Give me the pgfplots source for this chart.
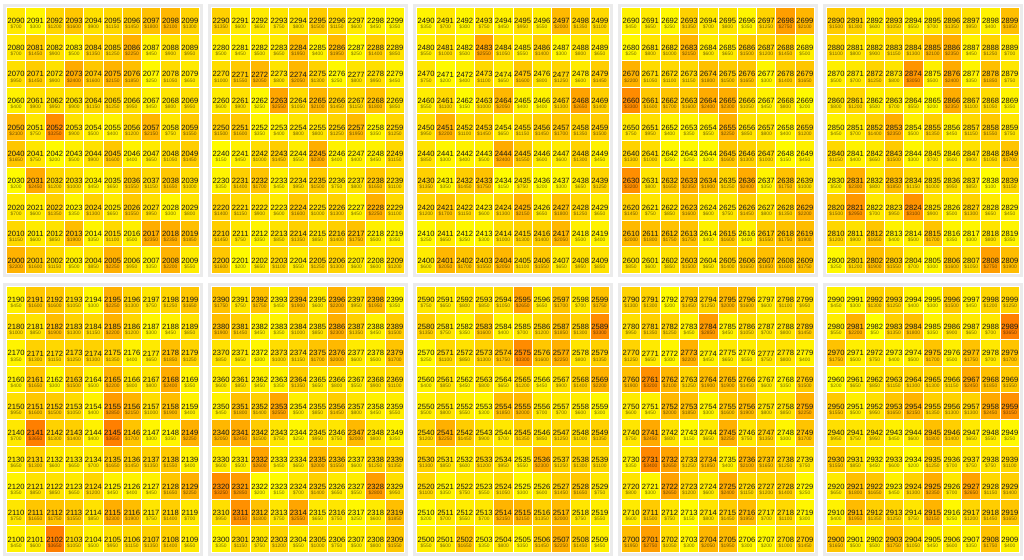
\documentclass[border=0pt]{standalone}
\usepackage{pgfplots}
\usepackage{pgfplotstable}
\pgfplotsset{compat=1.18}
\usepackage{fontspec}
\setmainfont{Liberation Sans}

\pgfdeclareplotmark{cell}{%
  \pgfpathrectangle{\pgfpoint{-7.2394pt}{-9.9781pt}}{\pgfpoint{14.4788pt}{19.9561pt}}%
  \pgfusepathqfillstroke}

\pgfplotstableread{
r c0 c1 c2 c3 c4 c5 c6 c7 c8 c9
2000 2200 1600 1150 500 850 2250 950 350 2200 550
2010 1150 600 850 1900 350 1100 500 2350 2350 1850
2020 700 600 1350 350 1300 650 1550 950 300 800
2030 200 2450 1200 1000 450 650 1550 1150 1650 1000
2040 1650 750 200 500 900 1600 400 650 1050 1450
2050 2100 750 3250 900 500 400 1200 2150 750 1550
2060 400 900 950 900 1150 1250 950 450 800 950
2070 950 1450 900 2400 1600 2150 1850 250 1050 650
2080 700 1450 900 500 1350 1250 2250 450 900 950
2090 700 300 1200 1600 900 1150 1450 1800 2100 1300
}\tA
\pgfplotstableread{
r c0 c1 c2 c3 c4 c5 c6 c7 c8 c9
2100 450 600 3650 1050 500 950 1150 1350 1400 650
2110 750 1650 1750 1550 850 2300 1900 750 1400 700
2120 350 850 850 650 1200 450 400 450 1650 2250
2130 650 1300 600 650 700 1650 1450 1350 1550 400
2140 700 3650 1300 1400 400 3650 1700 300 350 2250
2150 950 1600 1500 1050 400 2850 2150 1000 1900 400
2160 400 1650 300 1500 500 2200 800 800 2400 350
2170 350 1300 1150 1250 1300 1350 400 650 1850 1250
2180 1000 850 1900 1300 1150 2200 1200 300 450 850
2190 450 1600 1600 1050 300 2250 1300 750 1250 1650
}\tB
\pgfplotstableread{
r c0 c1 c2 c3 c4 c5 c6 c7 c8 c9
2200 1600 200 650 1100 550 1250 1300 600 600 1200
2210 1450 750 350 850 1350 850 1400 1750 500 350
2220 1400 1150 900 600 1600 1000 1300 450 2250 1100
2230 350 1400 1700 450 950 1500 750 800 1650 1100
2240 150 450 1000 1450 550 2300 400 400 450 1150
2250 1500 1600 350 400 800 800 1250 1950 350 1250
2260 600 900 250 2550 1050 2100 1450 1150 1800 850
2270 1000 1550 2050 800 2050 1300 250 800 950 450
2280 500 450 500 650 1950 400 1950 250 1400 850
2290 1350 600 650 750 800 1500 1150 600 450 350
}\tC
\pgfplotstableread{
r c0 c1 c2 c3 c4 c5 c6 c7 c8 c9
2300 350 1150 750 1200 550 1000 750 500 800 1550
2310 950 3150 1800 750 2550 650 750 250 600 1850
2320 3250 2850 200 150 700 1400 650 550 2800 950
2330 600 500 2600 450 650 2000 1550 600 1250 1350
2340 2050 2450 1500 750 250 950 750 2000 800 350
2350 450 1800 1400 2550 500 850 1450 800 450 550
2360 600 850 450 350 1350 650 800 550 900 1100
2370 850 650 300 1000 1150 1700 2000 600 500 1700
2380 1900 1450 450 350 1000 850 2300 1350 450 1500
2390 1750 750 1750 450 1900 600 2200 950 1950 350
}\tD
\pgfplotstableread{
r c0 c1 c2 c3 c4 c5 c6 c7 c8 c9
2400 600 2050 1700 1550 2050 1100 1550 650 950 850
2410 250 650 250 300 1000 1300 1400 2050 500 400
2420 1200 1700 1150 600 1300 2150 650 1800 1250 650
2430 1350 350 1450 1750 150 750 200 300 650 1250
2440 850 300 400 500 2400 1550 600 600 1300 450
2450 950 2200 1100 1450 650 1150 1450 1700 1350 1500
2460 550 1100 150 1000 2050 400 400 1300 2650 1400
2470 750 200 400 1100 650 1600 800 1250 600 1450
2480 550 1000 500 2550 1050 550 1400 300 800 650
2490 350 700 300 750 450 950 550 2000 1350 1100
}\tE
\pgfplotstableread{
r c0 c1 c2 c3 c4 c5 c6 c7 c8 c9
2500 550 600 1650 350 800 350 1450 2250 1450 450
2510 200 700 550 700 2150 2150 1350 2000 750 550
2520 1100 350 750 550 1050 300 600 1450 1650 750
2530 1300 850 600 1200 950 550 2300 1250 1300 1100
2540 1200 2250 1450 900 700 1350 850 1250 1000 1350
2550 500 800 550 300 1850 2000 700 700 600 300
2560 400 850 450 800 650 1200 450 900 1400 2200
2570 250 1100 850 1300 1750 3300 1600 2250 800 1350
2580 1350 750 350 1600 400 700 1200 1850 1300 3300
2590 750 650 800 850 1050 2650 650 1700 700 1750
}\tF
\pgfplotstableread{
r c0 c1 c2 c3 c4 c5 c6 c7 c8 c9
2600 850 600 850 1500 650 1400 1650 1850 1600 1750
2610 2000 1800 1750 1750 400 1600 400 1550 1750 1900
2620 1450 750 850 1600 600 750 1450 800 1350 2200
2630 3200 800 1650 2350 1900 1250 2400 350 1750 1000
2640 1300 1000 250 250 200 1600 1300 1000 150 450
2650 750 950 400 350 550 2250 850 800 400 1200
2660 3300 1600 1700 1600 2400 2300 1050 450 800 200
2670 2200 1050 1100 1150 1800 1500 1650 300 1400 1650
2680 250 800 1000 2150 600 650 1500 1200 1450 500
2690 450 650 250 1350 700 800 350 1250 2750 2100
}\tG
\pgfplotstableread{
r c0 c1 c2 c3 c4 c5 c6 c7 c8 c9
2700 1950 2750 1050 300 2050 1950 300 200 1000 1450
2710 600 1500 750 150 800 1450 1950 700 1100 300
2720 800 300 2650 1200 600 2400 1150 1200 1400 250
2730 350 3400 2650 1250 1850 400 2100 1650 1250 750
2740 750 2450 800 150 650 2250 750 1350 300 1700
2750 600 450 2000 1850 300 1600 1900 800 850 2250
2760 1900 3200 2100 1250 1900 1900 1450 600 350 1500
2770 1250 650 300 2200 450 650 550 750 800 400
2780 950 1350 1250 450 2850 450 1050 700 800 1450
2790 1300 1300 200 1450 1250 2000 1600 600 1100 950
}\tH
\pgfplotstableread{
r c0 c1 c2 c3 c4 c5 c6 c7 c8 c9
2800 250 1200 1900 1550 700 300 1600 1050 2750 1900
2810 1200 900 1650 400 500 1700 350 300 800 350
2820 1500 2950 700 950 3100 900 500 1300 650 450
2830 500 2300 800 1850 1150 1000 950 850 100 1150
2840 1150 400 650 1500 300 700 600 900 1050 1700
2850 450 700 1400 2350 500 1350 450 1150 1550 750
2860 800 1200 500 700 550 200 2350 1100 1050 350
2870 500 700 1250 800 3050 500 2400 350 1850 750
2880 1100 800 900 1150 1300 2100 2350 450 1250 700
2890 1500 1300 600 1050 550 700 1350 950 400 1850
}\tI
\pgfplotstableread{
r c0 c1 c2 c3 c4 c5 c6 c7 c8 c9
2900 1650 500 500 1750 1050 450 600 350 1750 400
2910 400 1950 1350 1250 750 2150 250 1200 1450 1650
2920 650 1800 1650 450 1300 2350 700 2650 1150 1400
2930 1550 850 450 600 200 1250 700 750 750 1100
2940 950 750 950 450 600 1800 1400 650 550 250
2950 1550 500 950 1650 2150 1350 1300 1300 2450 3150
2960 200 650 850 1150 1300 1300 1150 2450 1850 1550
2970 1750 500 750 400 500 1700 500 1750 700 1700
2980 550 2200 50 1350 1800 350 900 650 700 3650
2990 450 300 1300 1250 400 300 1500 450 1200 1250
}\tJ

\pgfkeys{/pgf/number format/.cd, assume math mode=true}

\newcommand{\panel}[4]{%
\begin{axis}[at={(#1,#2)}, anchor=north west, scale only axis,
  width=150pt, height=204.75pt,
  xmin=-0.68, xmax=9.68, ymin=-0.63, ymax=9.63,
  axis background/.style={fill=black!8},
  axis line style={draw=none}, ticks=none, clip=false,
  colormap={yo}{rgb255=(255,255,0) rgb255=(255,127,0)},
  point meta min=50, point meta max=3650]
\pgfplotsinvokeforeach{0,...,9}{%
  \addplot[scatter, only marks, mark=cell,
    scatter/@pre marker code/.code={%
      \pgfplotscolormapdefinemappedcolor{\pgfplotspointmetatransformed}%
      \begin{pgfscope}\pgfsetfillcolor{mapped color}\pgfsetstrokecolor{white}\pgfsetlinewidth{0.75pt}},
    scatter/@post marker code/.code={\end{pgfscope}},
    point meta=explicit]
    table[x expr=##1, y expr={(\thisrow{r}-#3)/10}, meta=c##1]{#4};
}
\pgfplotsinvokeforeach{0,...,9}{%
  \addplot[draw=none, mark=none, point meta=explicit,
    visualization depends on={\thisrow{r}+##1 \as \cid},
    nodes near coords={\pgfmathprintnumber[fixed, precision=0, 1000 sep={}, assume math mode=true]{\cid}},
    nodes near coords align=center,
    every node near coord/.append style={font=\fontsize{5.7}{6}\selectfont,
      inner sep=0pt, yshift=-0.3pt, text=black!90}]
    table[x expr=##1, y expr={(\thisrow{r}-#3)/10}, meta=c##1]{#4};
  \addplot[draw=none, mark=none, point meta=explicit,
    nodes near coords={\$\pgfmathprintnumber[fixed, precision=0, 1000 sep={}, assume math mode=true]{\pgfplotspointmeta}},
    nodes near coords align=center,
    every node near coord/.append style={font=\fontsize{3.7}{4}\selectfont,
      inner sep=0pt, yshift=-4.9pt, text=black, text opacity=0.55}]
    table[x expr=##1, y expr={(\thisrow{r}-#3)/10}, meta=c##1]{#4};
}
\end{axis}}

\begin{document}
\begin{tikzpicture}
\path[use as bounding box] (0,0) rectangle (768pt,420pt);
\panel{2.25pt}{417pt}{2000}{\tA}
\panel{156pt}{417pt}{2200}{\tC}
\panel{309.75pt}{417pt}{2400}{\tE}
\panel{463.5pt}{417pt}{2600}{\tG}
\panel{617.25pt}{417pt}{2800}{\tI}
\panel{2.25pt}{207.75pt}{2100}{\tB}
\panel{156pt}{207.75pt}{2300}{\tD}
\panel{309.75pt}{207.75pt}{2500}{\tF}
\panel{463.5pt}{207.75pt}{2700}{\tH}
\panel{617.25pt}{207.75pt}{2900}{\tJ}
\end{tikzpicture}
\end{document}
